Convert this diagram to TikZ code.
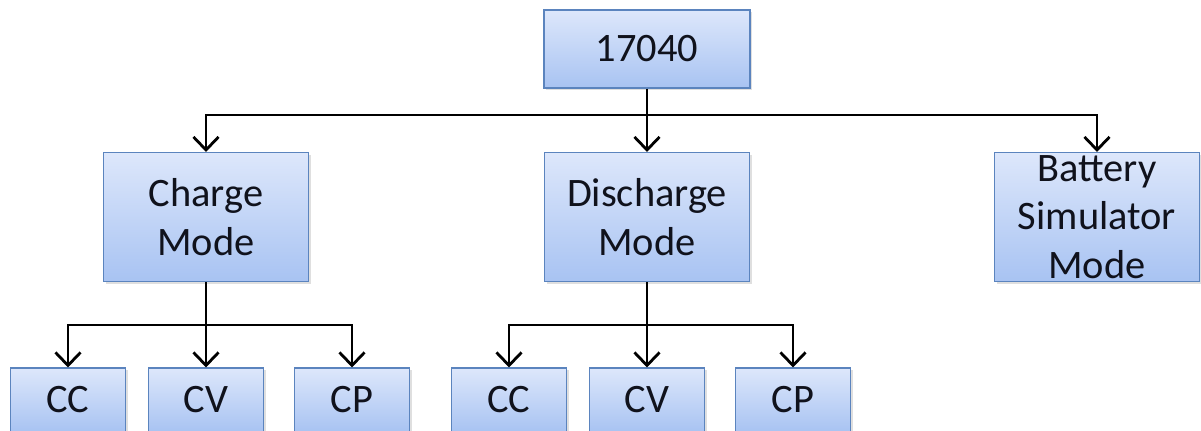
\documentclass[tikz,border=0pt]{standalone}
\usepackage{fontspec}
\setmainfont{Carlito}
\usetikzlibrary{arrows.meta,shadows}
\definecolor{boxline}{HTML}{5B84BE}
\definecolor{boxtop}{HTML}{DDE7FB}
\definecolor{boxbot}{HTML}{A8C3F2}
\definecolor{ink}{HTML}{10121C}
\begin{document}
\begin{tikzpicture}
  [x=0.02cm,y=-0.02cm,
   every node/.style={draw=boxline,line width=0.6pt,top color=boxtop,bottom color=boxbot,
     text=ink,font=\fontsize{23}{27.5}\selectfont,align=center,inner sep=0pt,
     drop shadow={shadow xshift=1.2pt,shadow yshift=-1.2pt,opacity=0.25}},
   mode/.style={minimum width=4.1cm,minimum height=2.58cm},
   leaf/.style={minimum width=2.3cm,minimum height=1.28cm},
   link/.style={line width=1.6pt},
   arr/.style={link,-{Straight Barb[length=2.6mm,width=5mm]}}]
  \clip (0,0) rectangle (1201,430);
  \useasboundingbox (0,0) rectangle (1201,430);
  \node (top) [minimum width=4.12cm,minimum height=1.56cm] at (647,49) {17040};
  \node (charge) [mode] at (206,217) {Charge\\Mode};
  \node (discharge) [mode] at (647,217) {Discharge\\Mode};
  \node (battery) [mode] at (1097,217) {Battery\\Simulator\\Mode};
  \node (cc1) [leaf] at (68,400) {CC};
  \node (cv1) [leaf] at (206,400) {CV};
  \node (cp1) [leaf] at (352,400) {CP};
  \node (cc2) [leaf] at (509,400) {CC};
  \node (cv2) [leaf] at (647,400) {CV};
  \node (cp2) [leaf] at (793,400) {CP};
  % buses
  \coordinate (b0) at (647,115);
  \coordinate (b1) at (206,325);
  \coordinate (b2) at (647,325);
  \draw[link] (top) -- (b0);
  \draw[link] (charge) -- (b1);
  \draw[link] (discharge) -- (b2);
  \foreach \from/\to in {b0/charge,b0/discharge,b0/battery,b1/cc1,b1/cv1,b1/cp1,b2/cc2,b2/cv2,b2/cp2}
    \draw[arr] (\from) -| (\to.north);
\end{tikzpicture}
\end{document}
